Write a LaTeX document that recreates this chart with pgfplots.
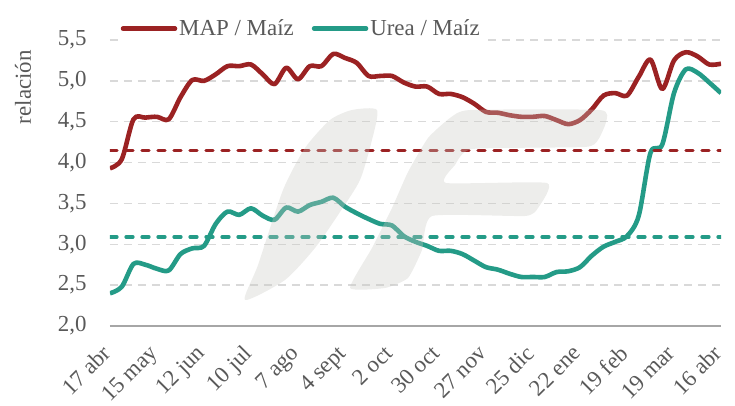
\documentclass[border=0pt]{standalone}
\usepackage{fontspec}
\setmainfont{Liberation Serif}
\usepackage{pgfplots}
\pgfplotsset{compat=1.18}
\definecolor{mapred}{RGB}{155,34,35}
\definecolor{ureateal}{RGB}{36,155,135}
\definecolor{txtgray}{RGB}{89,89,89}
\definecolor{gridgray}{RGB}{217,217,217}
\definecolor{axgray}{RGB}{166,166,166}
\definecolor{wm}{RGB}{200,200,195}
\newcommand{\chartfont}{\fontsize{23}{26}\selectfont}
\begin{document}
\begin{tikzpicture}
\begin{axis}[
  name=ax,
  scale only axis, width=611bp, height=286bp,
  xmin=0, xmax=52, ymin=2, ymax=5.5,
  axis x line*=bottom, axis y line*=left,
  x axis line style={axgray, line width=1.5bp, -},
  y axis line style={draw=none},
  major tick length=0pt,
  ytick={2,2.5,3,3.5,4,4.5,5,5.5},
  ymajorgrids,
  grid style={gridgray, dash pattern=on 8bp off 6bp, line width=1.3bp},
  xtick={0,4,8,12,16,20,24,28,32,36,40,44,48,52},
  xticklabels={17 abr,15 may,12 jun,10 jul,7 ago,4 sept,2 oct,30 oct,27 nov,25 dic,22 ene,19 feb,19 mar,16 abr},
  xticklabel style={xshift=-9bp, yshift=-13bp, rotate=45, anchor=north east, font=\chartfont, text=txtgray},
  yticklabel style={font=\chartfont, text=txtgray, xshift=-20bp},
  /pgf/number format/.cd, fixed, fixed zerofill, precision=1, use comma, assume math mode=true,
  /pgfplots/.cd,
  ylabel={relación},
  ylabel style={at={(ticklabel cs:0.835)}, font=\chartfont, text=txtgray, yshift=20bp},
  legend style={at={(0.014,1.04)}, anchor=west, draw=none, fill=white, legend columns=2,
    font=\chartfont, text=txtgray, inner sep=2bp,
    /tikz/every even column/.append style={column sep=16bp}},
  legend image code/.code={\draw[#1, line width=4.5bp, line cap=round] (0bp,0bp) -- (52bp,0bp);},
]
\addplot[mapred, line width=4.6bp, smooth, tension=0.5, line join=round] coordinates {
(0,3.93)(1,4.04)(2,4.53)(3,4.55)(4,4.56)(5,4.53)(6,4.80)(7,5.01)(8,5.00)(9,5.08)(10,5.18)(11,5.18)(12,5.20)(13,5.08)(14,4.96)(15,5.16)(16,5.02)(17,5.18)(18,5.18)(19,5.33)(20,5.28)(21,5.22)(22,5.06)(23,5.06)(24,5.06)(25,4.98)(26,4.93)(27,4.93)(28,4.84)(29,4.84)(30,4.80)(31,4.72)(32,4.62)(33,4.61)(34,4.58)(35,4.56)(36,4.56)(37,4.57)(38,4.52)(39,4.47)(40,4.52)(41,4.65)(42,4.82)(43,4.85)(44,4.82)(45,5.05)(46,5.26)(47,4.90)(48,5.25)(49,5.35)(50,5.30)(51,5.20)(52,5.21)
};
\addlegendentry{MAP / Maíz}
\addplot[ureateal, line width=4.6bp, smooth, tension=0.5, line join=round] coordinates {
(0,2.40)(1,2.48)(2,2.76)(3,2.75)(4,2.70)(5,2.68)(6,2.88)(7,2.95)(8,2.98)(9,3.25)(10,3.40)(11,3.36)(12,3.44)(13,3.35)(14,3.30)(15,3.45)(16,3.40)(17,3.48)(18,3.52)(19,3.57)(20,3.46)(21,3.38)(22,3.31)(23,3.25)(24,3.23)(25,3.10)(26,3.03)(27,2.98)(28,2.92)(29,2.92)(30,2.88)(31,2.80)(32,2.72)(33,2.69)(34,2.64)(35,2.60)(36,2.60)(37,2.60)(38,2.66)(39,2.67)(40,2.72)(41,2.86)(42,2.97)(43,3.03)(44,3.10)(45,3.35)(46,4.12)(47,4.22)(48,4.85)(49,5.14)(50,5.10)(51,4.98)(52,4.85)
};
\addlegendentry{Urea / Maíz}
\addplot[mapred, line width=3.2bp, line cap=round, dash pattern=on 7bp off 9bp, forget plot] coordinates {(0,4.15) (52,4.15)};
\addplot[ureateal, line width=3.2bp, line cap=round, dash pattern=on 7bp off 9bp, forget plot] coordinates {(0,3.09) (52,3.09)};
\end{axis}
\begin{scope}[shift={([xshift=-110bp,yshift=326bp]ax.south west)}, x=1bp, y=-1bp]
\fill[wm, opacity=0.33] plot[smooth cycle, tension=0.4] coordinates {
(245,300)(258,265)(283,190)(305,148)(330,120)(352,110)(377,110)(372,140)(360,180)(340,212)(315,248)(285,280)};
\fill[wm, opacity=0.33] plot[smooth cycle, tension=0.3] coordinates {
(350,288)(372,248)(392,208)(408,172)(428,138)(450,118)(470,110)(600,110)(606,122)(598,140)(585,147)(472,149)(455,165)(446,183)(547,183)(538,208)(525,216)(432,216)(422,250)(408,278)(385,288)};
\end{scope}
\pgfresetboundingbox
\path[use as bounding box] ([xshift=-110bp, yshift=-80bp]ax.south west) rectangle ([xshift=14bp, yshift=40bp]ax.north east);
\end{tikzpicture}
\end{document}
